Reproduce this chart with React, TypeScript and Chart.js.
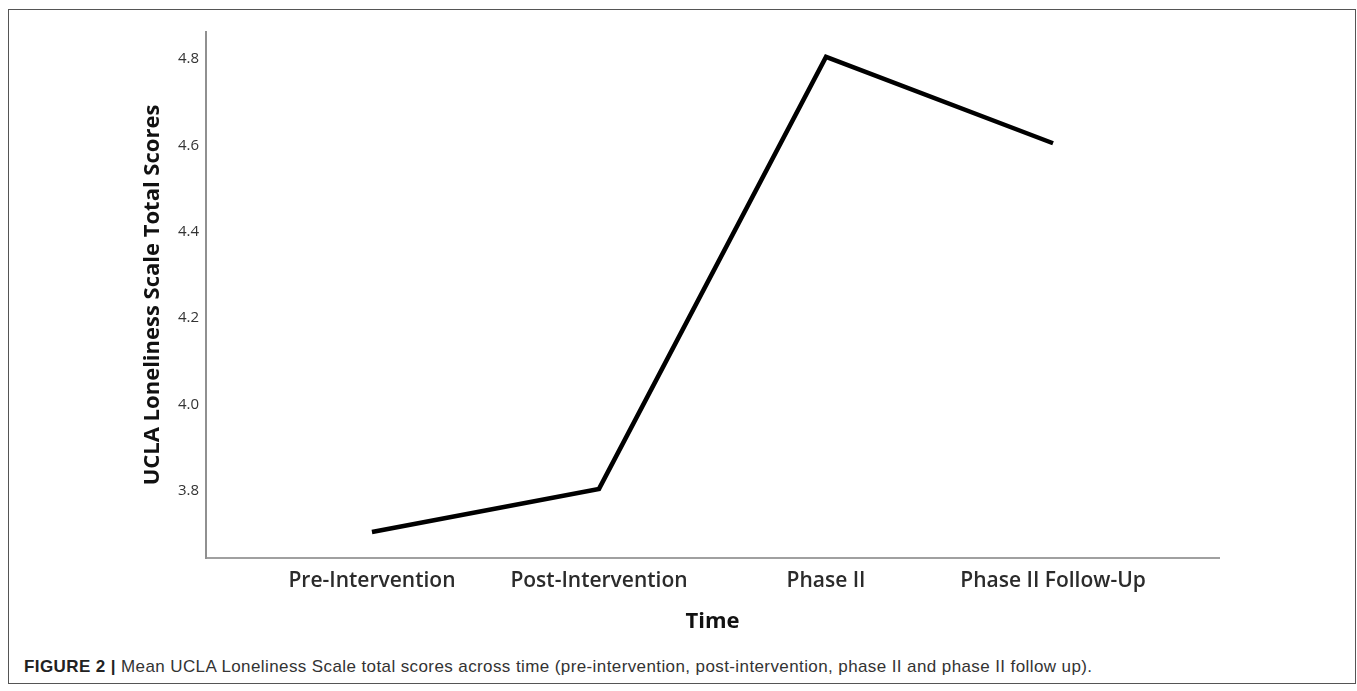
import React, { useEffect, useRef } from "react";
import { Chart, registerables } from "chart.js";

Chart.register(...registerables);

const categories = ["Pre-Intervention", "Post-Intervention", "Phase II", "Phase II Follow-Up"];
const meanScores = [3.705, 3.805, 4.805, 4.605];
const yTicks = [3.8, 4.0, 4.2, 4.4, 4.6, 4.8];
const xTitle = "Time";
const yTitle = "UCLA Loneliness Scale Total Scores";

export default function App() {
  const canvasRef = useRef<HTMLCanvasElement | null>(null);

  useEffect(() => {
    const canvas = canvasRef.current;
    if (!canvas) return;
    const chart = new Chart(canvas, {
      type: "line",
      data: {
        datasets: [
          {
            data: categories.map((_, i) => ({ x: i, y: meanScores[i] })),
            borderColor: "#000",
            borderWidth: 4.5,
            borderJoinStyle: "miter",
            pointRadius: 0,
            fill: false,
            tension: 0,
          },
        ],
      },
      options: {
        responsive: false,
        animation: false,
        layout: { padding: { left: 140, top: 32, right: 138, bottom: 0 } },
        plugins: { legend: { display: false }, tooltip: { enabled: false } },
        scales: {
          x: {
            type: "linear",
            min: -0.731,
            max: 3.731,
            afterBuildTicks: (scale: any) => {
              scale.ticks = categories.map((_, i) => ({ value: i }));
            },
            afterFit: (scale: any) => {
              scale.height = 82;
            },
            grid: { display: false, drawTicks: false },
            border: { display: true, color: "#a0a0a0", width: 2 },
            ticks: {
              padding: 10,
              color: "#2b2b2b",
              font: { family: "'Open Sans'", size: 21, weight: "600" },
              callback: (v: any) => categories[Number(v)] ?? "",
              maxRotation: 0,
              autoSkip: false,
            },
            title: {
              display: true,
              text: xTitle,
              color: "#111",
              font: { family: "'Open Sans'", size: 22, weight: "bold" },
              padding: { top: 0, bottom: 5 },
            },
          },
          y: {
            type: "linear",
            min: 3.645,
            max: 4.8625,
            afterBuildTicks: (scale: any) => {
              scale.ticks = yTicks.map((v) => ({ value: v }));
            },
            afterFit: (scale: any) => {
              scale.width = 66;
            },
            grid: { display: false, drawTicks: false },
            border: { display: true, color: "#909090", width: 2 },
            ticks: {
              padding: 7,
              color: "#333",
              font: { family: "'Open Sans'", size: 15, weight: "500" },
              callback: (v: any) => Number(v).toFixed(1),
            },
            title: {
              display: true,
              text: yTitle,
              color: "#111",
              font: { family: "'Open Sans'", size: 22, weight: "bold" },
              padding: { top: 0, bottom: 0 },
            },
          },
        },
      },
    });
    return () => chart.destroy();
  }, []);

  return (
    <div style={{ position: "fixed", left: 0, top: 0, width: 1357, height: 691, background: "#fff" }}>
      <div
        style={{
          position: "absolute",
          left: 8,
          top: 9,
          width: 1348,
          height: 675,
          boxSizing: "border-box",
          border: "1.5px solid #555",
        }}
      />
      <canvas
        ref={canvasRef}
        width={1357}
        height={640}
        style={{ position: "absolute", left: 0, top: 0, width: 1357, height: 640 }}
      />
      <div
        style={{
          position: "absolute",
          left: 24,
          top: 657,
          fontFamily: "'Liberation Sans', Arial, sans-serif",
          fontSize: 17,
          letterSpacing: "0.4px",
          color: "#333",
          whiteSpace: "nowrap",
        }}
      >
        <span style={{ fontWeight: "bold", color: "#222" }}>FIGURE 2 |</span> Mean UCLA Loneliness Scale total
        scores across time (pre-intervention, post-intervention, phase II and phase II follow up).
      </div>
    </div>
  );
}
